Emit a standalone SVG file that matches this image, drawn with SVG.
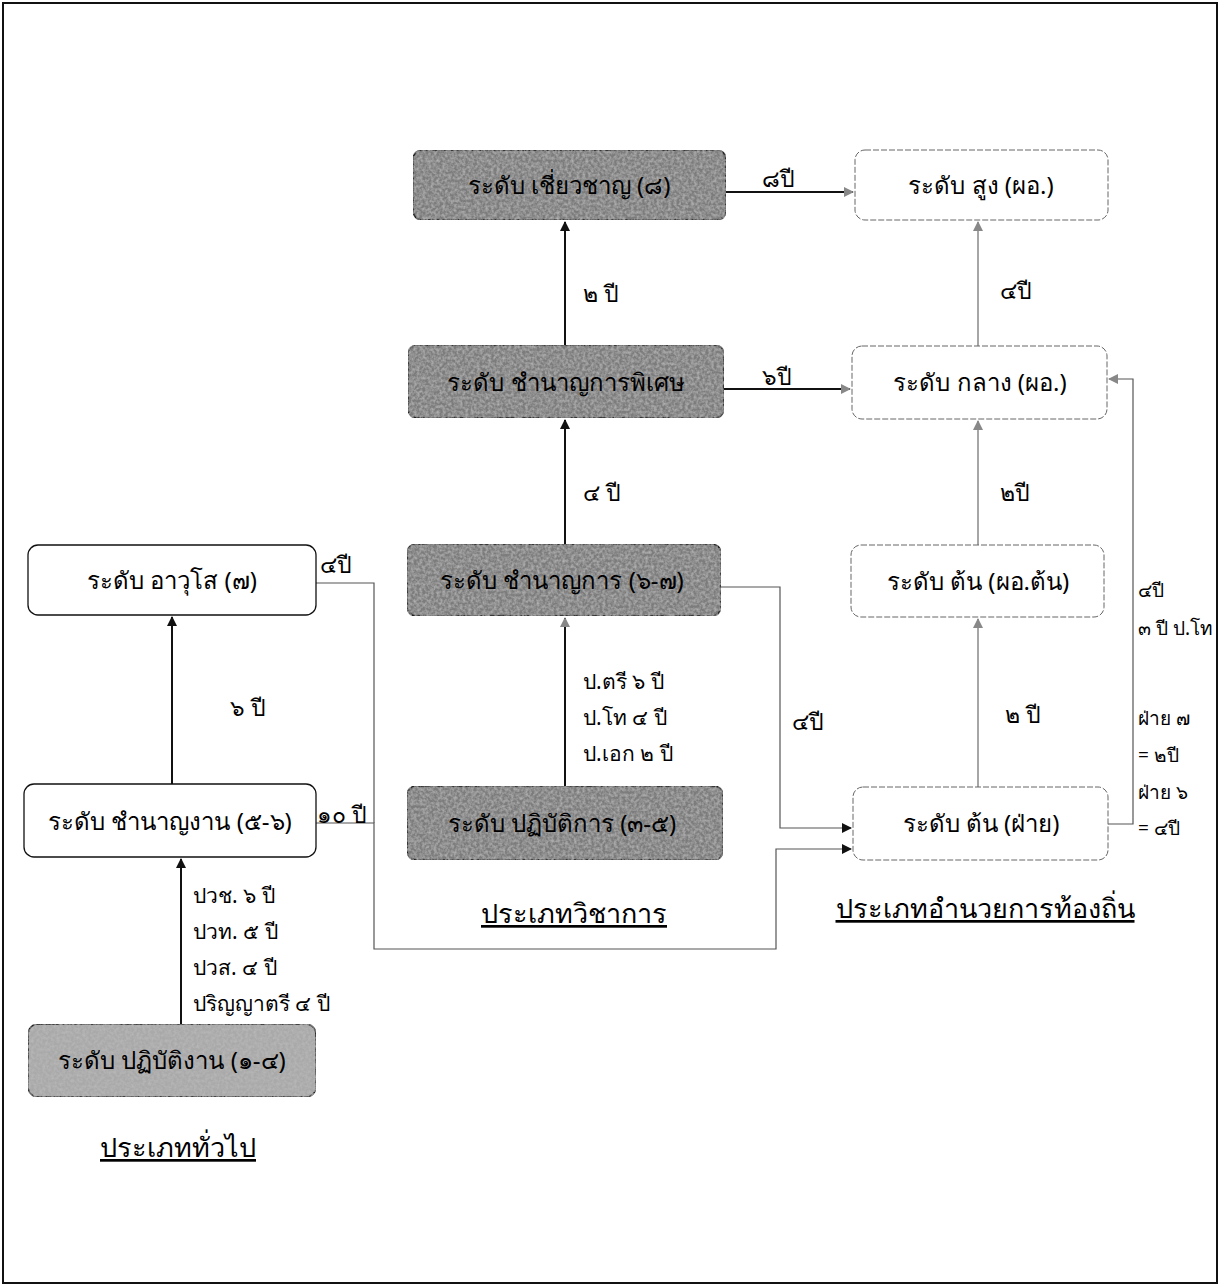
<svg xmlns="http://www.w3.org/2000/svg" width="1220" height="1288" viewBox="0 0 1220 1288">
<style>
text{font-family:"Noto Sans","DejaVu Sans",sans-serif;font-size:23px;fill:#000}
.c{text-anchor:middle}
.n{font-size:24px}
.sm{font-size:21px}
.rs{font-size:19px}
.t{font-size:27px;text-decoration:underline}
.dark{fill:#7c7c7c;stroke:#222;stroke-width:1.5}
.light{fill:#a9a9a9;stroke:#222;stroke-width:1.5}
.wsolid{fill:#fff;stroke:#111;stroke-width:1.3}
.wdash{fill:#fff;stroke:#666;stroke-width:1;stroke-dasharray:6 2}
.solid{fill:none;stroke:#111;stroke-width:2}
.thin{fill:none;stroke:#555;stroke-width:1.2}
.gray{fill:none;stroke:#888;stroke-width:1.5}
</style>
<defs>
<marker id="ab" viewBox="0 0 10 10" refX="9" refY="5" markerWidth="10" markerHeight="10" markerUnits="userSpaceOnUse" orient="auto"><path d="M0,0 L10,5 L0,10 Z" fill="#111"/></marker>
<marker id="ag" viewBox="0 0 10 10" refX="9" refY="5" markerWidth="10" markerHeight="10" markerUnits="userSpaceOnUse" orient="auto"><path d="M0,0 L10,5 L0,10 Z" fill="#888"/></marker>
<filter id="noise" x="0" y="0" width="100%" height="100%">
<feTurbulence type="fractalNoise" baseFrequency="0.35" numOctaves="2" seed="3" result="n"/>
<feColorMatrix in="n" type="matrix" values="0 0 0 0 0.5 0 0 0 0 0.5 0 0 0 0 0.5 0 0 0 1.4 -0.45" result="g"/>
<feComposite in="g" in2="SourceGraphic" operator="in" result="m"/>
<feMerge><feMergeNode in="SourceGraphic"/><feMergeNode in="m"/></feMerge>
</filter>
</defs>
<rect x="0" y="0" width="1220" height="1288" fill="#fff"/>
<rect x="3" y="3" width="1214" height="1280" fill="none" stroke="#111" stroke-width="2"/>

<g id="connectors">
<line class="solid" x1="565" y1="786" x2="565" y2="618" marker-end="url(#ag)"/>
<line class="solid" x1="565" y1="544" x2="565" y2="420" marker-end="url(#ab)"/>
<line class="solid" x1="565" y1="345" x2="565" y2="222" marker-end="url(#ab)"/>
<line class="solid" x1="726" y1="192" x2="853" y2="192" marker-end="url(#ag)"/>
<line class="solid" x1="724" y1="389" x2="850" y2="389" marker-end="url(#ag)"/>
<line class="gray" x1="978" y1="346" x2="978" y2="222" marker-end="url(#ag)"/>
<line class="gray" x1="978" y1="545" x2="978" y2="421" marker-end="url(#ag)"/>
<line class="gray" x1="978" y1="787" x2="978" y2="619" marker-end="url(#ag)"/>
<polyline class="thin" points="1108,824 1133,824 1133,379 1109,379" marker-end="url(#ag)"/>
<polyline class="thin" points="721,587 780,587 780,828 851,828" marker-end="url(#ab)"/>
<polyline class="thin" points="316,823 374,823 374,949 776,949 776,849 851,849" marker-end="url(#ab)"/>
<polyline class="thin" points="316,583 374,583 374,823"/>
<line class="solid" x1="172" y1="784" x2="172" y2="617" marker-end="url(#ab)"/>
<line class="solid" x1="181" y1="1024" x2="181" y2="859" marker-end="url(#ab)"/>
</g>

<g id="n-expert"><rect class="dark" filter="url(#noise)" x="413" y="150" width="313" height="70" rx="9"/><text class="c n" x="569" y="194">ระดับ เชี่ยวชาญ (๘)</text></g>
<g id="n-senior-pro"><rect class="dark" filter="url(#noise)" x="408" y="345" width="316" height="73" rx="9"/><text class="c n" x="566" y="391">ระดับ ชำนาญการพิเศษ</text></g>
<g id="n-pro"><rect class="dark" filter="url(#noise)" x="407" y="544" width="314" height="72" rx="9"/><text class="c n" x="562" y="589">ระดับ ชำนาญการ (๖-๗)</text></g>
<g id="n-practitioner"><rect class="dark" filter="url(#noise)" x="407" y="786" width="316" height="74" rx="9"/><text class="c n" x="562" y="832">ระดับ ปฏิบัติการ (๓-๕)</text></g>

<g id="n-high"><rect class="wdash" x="855" y="150" width="253" height="70" rx="10"/><text class="c n" x="981" y="194">ระดับ สูง (ผอ.)</text></g>
<g id="n-mid"><rect class="wdash" x="852" y="346" width="255" height="73" rx="10"/><text class="c n" x="980" y="391">ระดับ กลาง (ผอ.)</text></g>
<g id="n-low-dir"><rect class="wdash" x="851" y="545" width="253" height="72" rx="10"/><text class="c n" x="978" y="590">ระดับ ต้น (ผอ.ต้น)</text></g>
<g id="n-low-div"><rect class="wdash" x="853" y="787" width="255" height="73" rx="10"/><text class="c n" x="981" y="832">ระดับ ต้น (ฝ่าย)</text></g>

<g id="n-senior"><rect class="wsolid" x="28" y="545" width="288" height="70" rx="10"/><text class="c n" x="172" y="589">ระดับ อาวุโส (๗)</text></g>
<g id="n-skilled"><rect class="wsolid" x="24" y="784" width="292" height="73" rx="10"/><text class="c n" x="170" y="830">ระดับ ชำนาญงาน (๕-๖)</text></g>
<g id="n-operator"><rect class="light" filter="url(#noise)" x="28" y="1024" width="288" height="73" rx="10"/><text class="c n" x="172" y="1069">ระดับ ปฏิบัติงาน (๑-๔)</text></g>

<g id="labels">
<text x="762" y="187">๘ปี</text>
<text x="762" y="385">๖ปี</text>
<text x="583" y="302">๒ ปี</text>
<text x="583" y="501">๔ ปี</text>
<text class="sm" x="583" y="689">ป.ตรี ๖ ปี</text>
<text class="sm" x="583" y="725">ป.โท ๔ ปี</text>
<text class="sm" x="583" y="761">ป.เอก ๒ ปี</text>
<text x="792" y="730">๔ปี</text>
<text x="1000" y="299">๔ปี</text>
<text x="1000" y="501">๒ปี</text>
<text x="1005" y="723">๒ ปี</text>
<text class="rs" x="1138" y="597">๔ปี</text>
<text class="rs" x="1138" y="635">๓ ปี ป.โท</text>
<text class="rs" x="1138" y="725">ฝ่าย ๗</text>
<text class="rs" x="1138" y="762">= ๒ปี</text>
<text class="rs" x="1138" y="799">ฝ่าย ๖</text>
<text class="rs" x="1138" y="835">= ๔ปี</text>
<text x="320" y="573">๔ปี</text>
<text x="317" y="823">๑๐ ปี</text>
<text x="230" y="716">๖ ปี</text>
<text class="sm" x="193" y="903">ปวช. ๖ ปี</text>
<text class="sm" x="193" y="939">ปวท. ๕ ปี</text>
<text class="sm" x="193" y="975">ปวส. ๔ ปี</text>
<text class="sm" x="193" y="1011">ปริญญาตรี ๔ ปี</text>
<text class="c t" x="178" y="1157">ประเภททั่วไป</text>
<text class="c t" x="574" y="923">ประเภทวิชาการ</text>
<text class="c t" x="985" y="918">ประเภทอำนวยการท้องถิ่น</text>
</g>
</svg>
